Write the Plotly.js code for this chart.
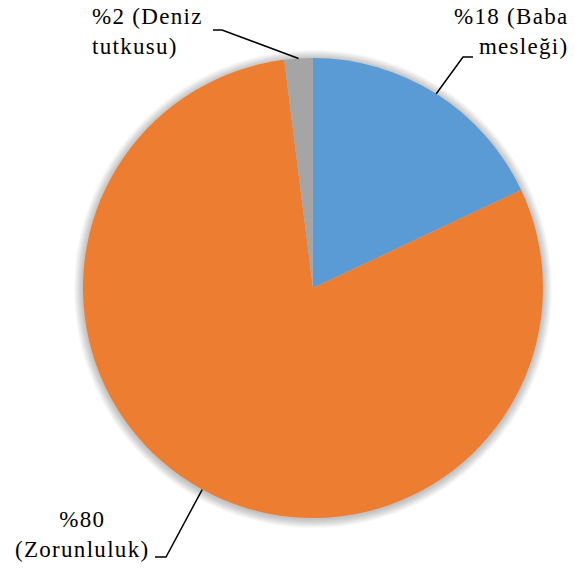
<!DOCTYPE html>
<html>
<head>
<meta charset="utf-8">
<script src="https://cdn.plot.ly/plotly-3.0.1.min.js"></script>
<style>
html,body{margin:0;padding:0;background:#fff;}
#chart{width:575px;height:569px;}
.annotation-text{letter-spacing:1.3px;}
</style>
</head>
<body>
<div id="chart"></div>
<script>
// Data
const categories = ["Baba mesleği", "Zorunluluk", "Deniz tutkusu"];
const values = [18, 80, 2];
const labelTexts = ["%18 (Baba<br>mesleği)", "%80<br>(Zorunluluk)", "%2 (Deniz<br>tutkusu)"];
const colors = ["#5B9BD5", "#ED7D31", "#A5A5A5"];

// Layout geometry (pixels)
const W = 575, H = 569;
const cx = 313, cy = 288, R = 230;

// Label placement (pixels): text anchor and leader elbow
const labelPos = [
  {x: 571, y: 2, xa: "right", ya: "top", align: "right", elbow: [463, 57], end: [473, 57]},
  {x: 82, y: 564, xa: "center", ya: "bottom", align: "center", elbow: [166, 557], end: [155, 557]},
  {x: 90, y: 2, xa: "left", ya: "top", align: "left", elbow: [222, 30], end: [213, 30]}
];

const px = v => v / W;
const py = v => 1 - v / H;

const total = values.reduce((a, b) => a + b, 0);
let cum = 0;
const shapes = [];
const annotations = [];

// soft shadow around the pie
for (let k = 9; k >= 1; k--) {
  const r = R + k;
  shapes.push({
    type: "circle", xref: "paper", yref: "paper", layer: "below",
    x0: px(cx - r), x1: px(cx + r), y0: py(cy + r + 1), y1: py(cy - r + 1),
    fillcolor: "rgba(0,0,0,0.028)", line: {width: 0}
  });
}

values.forEach((v, i) => {
  const mid = (cum + v / 2) / total * 2 * Math.PI;
  cum += v;
  const ex = cx + R * Math.sin(mid);
  const ey = cy - R * Math.cos(mid);
  const lp = labelPos[i];
  shapes.push({
    type: "path", xref: "paper", yref: "paper",
    path: `M ${px(ex)} ${py(ey)} L ${px(lp.elbow[0])} ${py(lp.elbow[1])} L ${px(lp.end[0])} ${py(lp.end[1])}`,
    line: {color: "#000", width: 1.5}
  });
  annotations.push({
    xref: "paper", yref: "paper", x: px(lp.x), y: py(lp.y),
    xanchor: lp.xa, yanchor: lp.ya, align: lp.align,
    text: labelTexts[i], showarrow: false,
    font: {family: "Liberation Serif", size: 23, color: "#000"}
  });
});

const trace = {
  type: "pie",
  labels: categories,
  values: values,
  sort: false,
  direction: "clockwise",
  rotation: 0,
  textinfo: "none",
  hoverinfo: "label+percent",
  marker: {colors: colors, line: {color: "#ffffff", width: 0}},
  domain: {x: [(cx - R) / W, (cx + R) / W], y: [1 - (cy + R) / H, 1 - (cy - R) / H]},
  showlegend: false
};

const layout = {
  width: W, height: H,
  margin: {l: 0, r: 0, t: 0, b: 0},
  paper_bgcolor: "#ffffff",
  plot_bgcolor: "#ffffff",
  showlegend: false,
  shapes: shapes,
  annotations: annotations
};

Plotly.newPlot("chart", [trace], layout, {displayModeBar: false, staticPlot: true});
</script>
</body>
</html>
